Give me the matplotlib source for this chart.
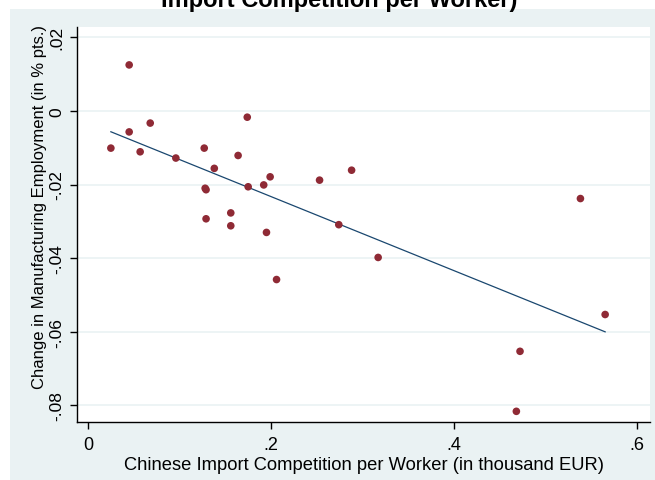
import matplotlib.pyplot as plt
import numpy as np
from matplotlib.patches import Rectangle

plt.rcParams['font.family'] = ['Liberation Sans', 'DejaVu Sans']

# import competition per worker (thousand EUR) and change in manufacturing employment
import_comp = [0.025, 0.045, 0.045, 0.057, 0.068, 0.096, 0.127, 0.128, 0.129,
               0.129, 0.138, 0.156, 0.156, 0.164, 0.174, 0.175, 0.192, 0.199,
               0.195, 0.206, 0.253, 0.288, 0.274, 0.317, 0.538, 0.565, 0.472,
               0.468]
emp_change = [-0.0101, 0.0125, -0.0057, -0.0111, -0.0033, -0.0128, -0.0101,
              -0.0210, -0.0214, -0.0293, -0.0156, -0.0277, -0.0312, -0.0121,
              -0.0017, -0.0206, -0.0201, -0.0179, -0.0330, -0.0458, -0.0188,
              -0.0161, -0.0309, -0.0398, -0.0238, -0.0553, -0.0653, -0.0816]

xticks = [0, 0.2, 0.4, 0.6]
xticklabels = ['0', '.2', '.4', '.6']
yticks = [0.02, 0, -0.02, -0.04, -0.06, -0.08]
yticklabels = ['.02', '0', '-.02', '-.04', '-.06', '-.08']

W, H = 655, 481
fig = plt.figure(figsize=(W / 100, H / 100), dpi=100)
fig.patch.set_facecolor('white')
fig.patches.append(Rectangle((10 / W, 0), 1, (H - 10) / H, transform=fig.transFigure,
                             facecolor='#eaf2f3', edgecolor='none', zorder=-10))

ax = fig.add_axes([77 / W, (H - 423) / H, (650 - 77) / W, (423 - 28) / H])
ax.set_facecolor('white')

x = np.array(import_comp)
y = np.array(emp_change)
ax.scatter(x, y, s=30, color='#8f2a35', edgecolors='none', zorder=3)

# linear fit over the observed range
b, a = np.polyfit(x, y, 1)
xs = np.array([x.min(), x.max()])
ax.plot(xs, a + b * xs, color='#1a476f', lw=0.9, zorder=2)

ax.set_xlim(-0.012, 0.614)
ax.set_ylim(-0.0845, 0.0228)
ax.set_xticks(xticks)
ax.set_xticklabels(xticklabels, fontsize=13)
ax.set_yticks(yticks)
ax.set_yticklabels(yticklabels, rotation=90, va='center', fontsize=12.5)
ax.tick_params(direction='out', length=5, width=1, colors='black', pad=4)
ax.tick_params(axis='x', pad=5)
ax.yaxis.grid(True, color='#eaf2f3', lw=1.2)
ax.set_axisbelow(True)
for s in ['top', 'right']:
    ax.spines[s].set_visible(False)
for s in ['left', 'bottom']:
    ax.spines[s].set_linewidth(1.0)
    ax.spines[s].set_color('black')

ax.set_xlabel('Chinese Import Competition per Worker (in thousand EUR)', fontsize=13.2, labelpad=2)
ax.set_ylabel('Change in Manufacturing Employment (in % pts.)', fontsize=12)
ax.yaxis.set_label_coords(-0.052, 0.547)

fig.text(0.518, 1 - 1 / H, 'Import Competition per Worker)', ha='center', va='center',
         fontsize=17, fontweight='bold')

fig.savefig('out.png', dpi=100)
